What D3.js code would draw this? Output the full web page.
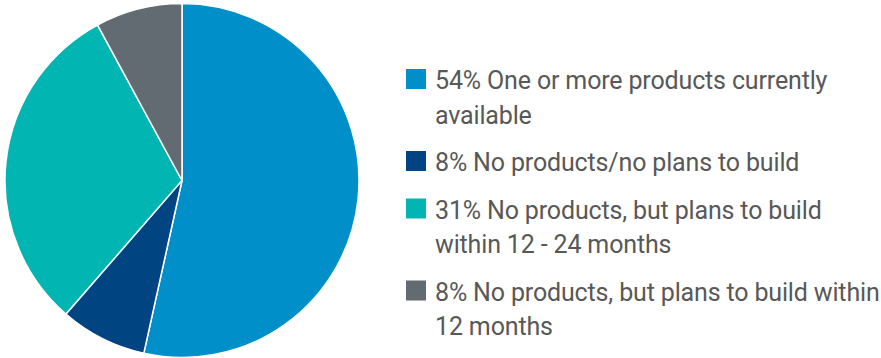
<!DOCTYPE html>
<html>
<head>
<meta charset="utf-8">
<script src="https://cdn.jsdelivr.net/npm/d3@7"></script>
<style>
  body { margin: 0; background: #fff; }
  text { font-family: Roboto, "Open Sans", sans-serif; fill: #585858; }
</style>
</head>
<body>
<div id="chart"></div>
<script>
const categories = [
	["One or more products currently", "available"],
	["No products/no plans to build"],
	["No products, but plans to build", "within 12 - 24 months"],
	["No products, but plans to build within", "12 months"]
];
const values = [54, 8, 31, 8];
const colors = ["#008fc8", "#004481", "#00b5b2", "#626a72"];

const [width, height] = [881, 358];
const svg = d3.select("#chart").append("svg").attr("width", width).attr("height", height);

const radius = 177;
const pie = d3.pie().sort(null).value(d => d);
const arc = d3.arc().innerRadius(0).outerRadius(radius);

const pieBox = svg.append("g").attr("transform", "translate(182, 180.5)");
pieBox.selectAll("path").data(pie(values)).enter()
	.append("path")
	.attr("d", arc)
	.attr("fill", (d, i) => colors[i])
	.attr("stroke", "#fff")
	.attr("stroke-width", 1.5);

// legend
const lineH = 34.5, itemGap = 47.5;
let y = 89;
const legend = svg.append("g");
categories.forEach((lines, i) => {
	legend.append("rect")
		.attr("x", 406).attr("y", y - 20)
		.attr("width", 20).attr("height", 20)
		.attr("fill", colors[i]);
	const t = legend.append("text").attr("x", 435).attr("y", y)
		.style("font-size", "25px").style("letter-spacing", "-0.15px");
	lines.forEach((l, j) => {
		t.append("tspan").attr("x", 435).attr("y", y + j * lineH)
			.text(j === 0 ? `${values[i]}% ${l}` : l);
	});
	y += (lines.length - 1) * lineH + itemGap;
});
</script>
</body>
</html>
